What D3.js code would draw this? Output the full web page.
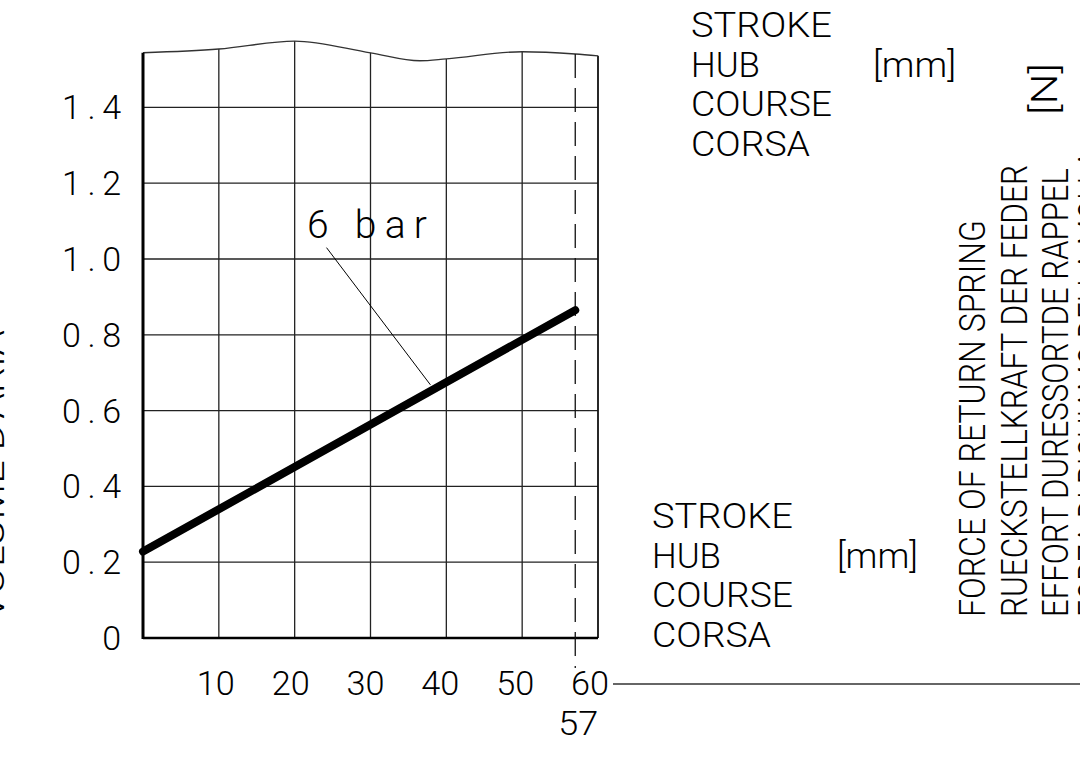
<!DOCTYPE html>
<html>
<head>
<meta charset="utf-8">
<script src="https://cdn.jsdelivr.net/npm/d3@7"></script>
<style>
  html, body { margin:0; padding:0; background:#fff; }
  svg { display:block; }
  text { font-family:'Roboto','Liberation Sans',sans-serif; font-weight:300; fill:#000; }
</style>
</head>
<body>
<svg id="chart" width="1080" height="764"></svg>
<script>
/* ---------- data ---------- */
const strokeTicks   = [10, 20, 30, 40, 50, 60];
const volumeTicks   = [0, 0.2, 0.4, 0.6, 0.8, 1.0, 1.2, 1.4];
const volumeLabels  = ['0', '0.2', '0.4', '0.6', '0.8', '1.0', '1.2', '1.4'];
const curveStroke   = [0, 57];
const curveVolume   = [0.228, 0.865];
const curveName     = '6 bar';
const maxStroke     = 57;
// wavy break line at the top of the diagram
const breakStroke   = [0, 10, 20, 30, 36.5, 40, 50, 57, 60];
const breakVolume   = [1.544, 1.554, 1.575, 1.544, 1.523, 1.528, 1.547, 1.541, 1.536];
// leader for the "6 bar" label: [label end, point on curve]
const leaderStroke  = [24.2, 37.9];
const leaderVolume  = [1.03, 0.668];

const strokeWords   = ['STROKE', 'HUB', 'COURSE', 'CORSA'];
const forceWords    = ['FORCE OF RETURN SPRING', 'RUECKSTELLKRAFT DER FEDER',
                       'EFFORT DURESSORTDE RAPPEL', 'FORZA DI RICHIAMO DELLA MOLLA'];
const yAxisTitle    = "VOLUME D'ARIA";

/* ---------- setup ---------- */
const svg = d3.select('#chart');
const x = d3.scaleLinear().domain([0, 60]).range([143, 598]);
const y = d3.scaleLinear().domain([0, 1.4]).range([638, 107.4]);

const breakPts = breakStroke.map((s, i) => ({ s, v: breakVolume[i] }));
const breakCurve = d3.line().x(d => x(d.s)).y(d => y(d.v)).curve(d3.curveMonotoneX);
const breakAt = s => {
  // volume of the break line at a given stroke (piecewise linear)
  const i = Math.max(1, d3.bisectRight(breakStroke, s));
  const j = Math.min(i, breakStroke.length - 1);
  const t = (s - breakStroke[j-1]) / (breakStroke[j] - breakStroke[j-1]);
  return breakVolume[j-1] + t * (breakVolume[j] - breakVolume[j-1]);
};

/* ---------- grid ---------- */
const grid = svg.append('g');
grid.selectAll('.vgrid').data(strokeTicks.slice(0, -1)).enter().append('line')
  .attr('x1', d => x(d)).attr('x2', d => x(d))
  .attr('y1', y(0)).attr('y2', d => y(breakAt(d)))
  .attr('stroke', '#222').attr('stroke-width', 1.3);
grid.selectAll('.hgrid').data(volumeTicks.slice(1)).enter().append('line')
  .attr('x1', x(0)).attr('x2', x(60))
  .attr('y1', d => y(d)).attr('y2', d => y(d))
  .attr('stroke', '#222').attr('stroke-width', 1.3);

// frame: right edge, bottom, break line, thick left axis
svg.append('line').attr('x1', x(60)).attr('x2', x(60)).attr('y1', y(0)).attr('y2', y(breakAt(60)))
  .attr('stroke', '#111').attr('stroke-width', 1.8);
svg.append('path').attr('d', breakCurve(breakPts)).attr('fill', 'none')
  .attr('stroke', '#333').attr('stroke-width', 1.4);
svg.append('line').attr('x1', x(0)).attr('x2', x(60)).attr('y1', y(0)).attr('y2', y(0))
  .attr('stroke', '#000').attr('stroke-width', 2.4);
svg.append('line').attr('x1', x(0)).attr('x2', x(0)).attr('y1', y(0) + 1).attr('y2', y(breakAt(0)))
  .attr('stroke', '#000').attr('stroke-width', 3);

// max stroke marker (dashed)
svg.append('line').attr('x1', x(maxStroke)).attr('x2', x(maxStroke))
  .attr('y1', y(breakAt(maxStroke))).attr('y2', y(0) + 30)
  .attr('stroke', '#111').attr('stroke-width', 1.3).attr('stroke-dasharray', '24,10');

/* ---------- curve ---------- */
const curve = curveStroke.map((s, i) => ({ s, v: curveVolume[i] }));
svg.append('path').attr('d', d3.line().x(d => x(d.s)).y(d => y(d.v))(curve))
  .attr('fill', 'none').attr('stroke', '#000').attr('stroke-width', 8).attr('stroke-linecap', 'round');

svg.append('line')
  .attr('x1', x(leaderStroke[0])).attr('y1', y(leaderVolume[0]))
  .attr('x2', x(leaderStroke[1])).attr('y2', y(leaderVolume[1]))
  .attr('stroke', '#000').attr('stroke-width', 1);
svg.append('text').attr('x', 307).attr('y', 238)
  .attr('font-size', 39).attr('textLength', 120).attr('lengthAdjust', 'spacing')
  .text(curveName);

/* ---------- tick labels ---------- */
svg.selectAll('.ylab').data(volumeTicks).enter().append('text')
  .attr('x', 121).attr('y', d => y(d) + 12)
  .attr('text-anchor', 'end').attr('font-size', 34)
  .each(function(d, i){
    const lab = volumeLabels[i];
    const t = d3.select(this).text(lab);
    if (lab.length > 1) t.attr('textLength', 59).attr('lengthAdjust', 'spacing');
  });

svg.selectAll('.xlab').data(strokeTicks).enter().append('text')
  .attr('x', d => x(d) - 2 - d / 10).attr('y', 695)
  .attr('text-anchor', 'middle').attr('font-size', 33)
  .attr('textLength', 38).attr('lengthAdjust', 'spacingAndGlyphs')
  .text(d => d);
svg.append('text').attr('x', x(maxStroke) + 3).attr('y', 735)
  .attr('text-anchor', 'middle').attr('font-size', 33)
  .attr('textLength', 40).attr('lengthAdjust', 'spacingAndGlyphs')
  .text(maxStroke);

// baseline continuation to the right of "60"
svg.append('line').attr('x1', 613).attr('x2', 1080).attr('y1', 684).attr('y2', 684)
  .attr('stroke', '#333').attr('stroke-width', 1.3);

/* ---------- unit blocks ---------- */
const wordWidths = { STROKE: 141, HUB: 69, COURSE: 141, CORSA: 119 };
function unitBlock(x0, y0, mmX, mmW){
  const g = svg.append('g');
  g.selectAll('text').data(strokeWords).enter().append('text')
    .attr('x', x0).attr('y', (d, i) => y0 + i * 39.5)
    .attr('font-size', 35)
    .attr('textLength', d => wordWidths[d]).attr('lengthAdjust', 'spacingAndGlyphs')
    .text(d => d);
  g.append('text').attr('x', mmX).attr('y', y0 + 39.5)
    .attr('font-size', 35).attr('textLength', mmW).attr('lengthAdjust', 'spacingAndGlyphs')
    .text('[mm]');
}
unitBlock(691, 37, 873, 83);
unitBlock(652, 528, 837, 81);

/* ---------- rotated force titles ---------- */
const forceCols = [
  { bx: 985,  len: 397 },
  { bx: 1027, len: 452 },
  { bx: 1068, len: 449 },
  { bx: 1104, len: 467 }
];
svg.selectAll('.force').data(forceWords).enter().append('text')
  .attr('transform', (d, i) => `translate(${forceCols[i].bx},617) rotate(-90)`)
  .attr('font-size', 36)
  .attr('textLength', (d, i) => forceCols[i].len).attr('lengthAdjust', 'spacingAndGlyphs')
  .text(d => d);
svg.append('text').attr('transform', 'translate(1057,115) rotate(-90)')
  .attr('font-size', 36).attr('textLength', 52).attr('lengthAdjust', 'spacingAndGlyphs')
  .text('[N]');

// y axis title, mostly cut off by the left edge
svg.append('text').attr('transform', 'translate(4,620) rotate(-90)')
  .attr('font-size', 35).attr('textLength', 290).attr('lengthAdjust', 'spacingAndGlyphs')
  .text(yAxisTitle);
</script>
</body>
</html>
